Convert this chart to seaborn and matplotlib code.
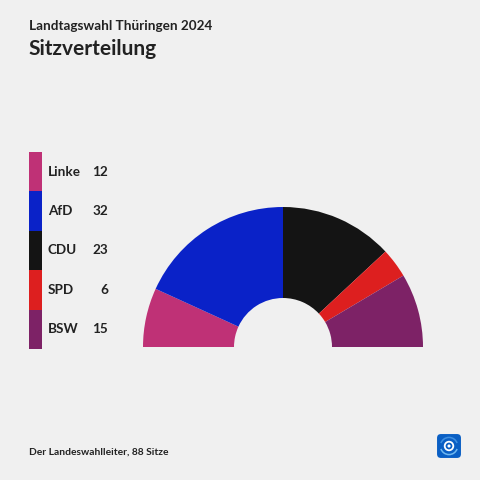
import matplotlib
matplotlib.use('Agg')
import matplotlib.pyplot as plt
from matplotlib.patches import FancyBboxPatch, Circle, Wedge
import seaborn as sns

# Daten
parteien = ['Linke', 'AfD', 'CDU', 'SPD', 'BSW']
sitze = [12, 32, 23, 6, 15]
farben = ['#bf3176', '#0a22c8', '#141414', '#dd1f1f', '#7d2266']

sns.set_style('white')
plt.rcParams['font.family'] = ['Lato', 'DejaVu Sans']
BG = '#f0f0f0'
TXT = '#222222'

fig = plt.figure(figsize=(4.8, 4.8), dpi=100, facecolor=BG)

def px(x, y):
    return x / 480, 1 - y / 480

# Titel
fig.text(*px(29, 26), 'Landtagswahl Thüringen 2024', fontsize=9.7, fontweight='bold',
         color=TXT, va='center', ha='left')
fig.text(*px(28, 49), 'Sitzverteilung', fontsize=15, fontweight='bold',
         color=TXT, va='center', ha='left')
fig.text(*px(29, 452), 'Der Landeswahlleiter, 88 Sitze', fontsize=7.4, fontweight='bold',
         color=TXT, va='center', ha='left')

# Halbkreis
cx, cy, r = 283, 347, 140
ax = fig.add_axes([(cx - r) / 480, 1 - (cy + r) / 480, 2 * r / 480, 2 * r / 480])
ax.set_facecolor(BG)
werte = sitze + [sum(sitze)]
wedges, _ = ax.pie(werte, colors=farben + [BG], startangle=180, counterclock=False,
                   radius=1, wedgeprops=dict(width=1 - 49 / 140, linewidth=0))
wedges[-1].set_visible(False)
ax.set_xlim(-1, 1)
ax.set_ylim(-1, 1)
ax.set_aspect('equal')
ax.axis('off')

# Legende
lx0, lx1, ly0, ly1 = 29, 42, 152, 349
lax = fig.add_axes([lx0 / 480, 1 - ly1 / 480, (lx1 - lx0) / 480, (ly1 - ly0) / 480])
n = len(parteien)
lax.bar([0] * n, [1] * n, bottom=list(range(n - 1, -1, -1)), color=farben, width=1, linewidth=0)
lax.set_xlim(-0.5, 0.5)
lax.set_ylim(0, n)
lax.axis('off')
seg = (ly1 - ly0) / n
for i, (p, s) in enumerate(zip(parteien, sitze)):
    y = ly0 + seg * (i + 0.5)
    fig.text(*px(48, y), p, fontsize=9.7, fontweight='bold', color=TXT, va='center', ha='left')
    fig.text(*px(108, y), str(s), fontsize=9.7, fontweight='bold', color=TXT, va='center', ha='right')

# Logo
lg = fig.add_axes([436 / 480, 1 - 459 / 480, 26 / 480, 26 / 480])
lg.set_xlim(0, 1)
lg.set_ylim(0, 1)
lg.axis('off')
lg.add_patch(FancyBboxPatch((0.04, 0.04), 0.92, 0.92, boxstyle='round,pad=0,rounding_size=0.15',
                            facecolor='#0a5fc4', edgecolor='none'))
lg.add_patch(Wedge((0.5, 0.5), 0.36, 200, 340, width=0.06, facecolor='#6fb8f0', edgecolor='none'))
lg.add_patch(Wedge((0.5, 0.5), 0.36, 20, 160, width=0.06, facecolor='#3f8fe0', edgecolor='none'))
lg.add_patch(Circle((0.5, 0.5), 0.2, facecolor='white', edgecolor='none'))
lg.add_patch(Circle((0.5, 0.5), 0.13, facecolor='#0a5fc4', edgecolor='none'))
lg.add_patch(Circle((0.5, 0.5), 0.06, facecolor='white', edgecolor='none'))

fig.savefig('out.png', dpi=100, facecolor=BG)
